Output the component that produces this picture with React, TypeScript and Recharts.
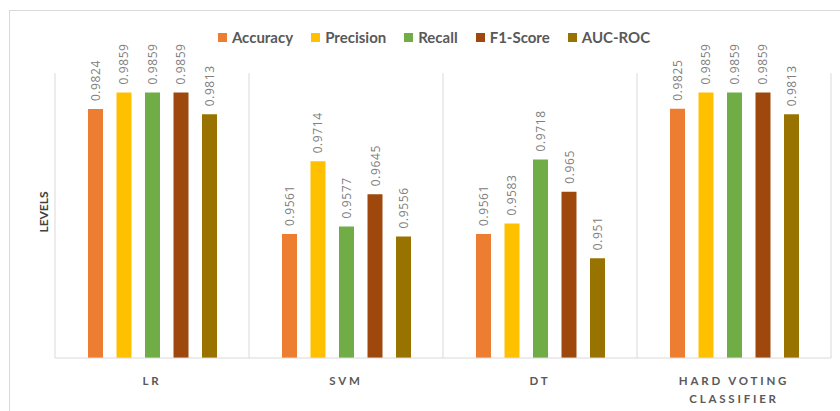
import { Bar, BarChart, CartesianGrid, LabelList, XAxis, YAxis } from "recharts";

const models = ["LR", "SVM", "DT", "HARD VOTING CLASSIFIER"];
const accuracy = [0.9824, 0.9561, 0.9561, 0.9825];
const precision = [0.9859, 0.9714, 0.9583, 0.9859];
const recall = [0.9859, 0.9577, 0.9718, 0.9859];
const f1Score = [0.9859, 0.9645, 0.965, 0.9859];
const aucRoc = [0.9813, 0.9556, 0.951, 0.9813];

const series = [
  { key: "accuracy", name: "Accuracy", color: "#ED7D31" },
  { key: "precision", name: "Precision", color: "#FFC000" },
  { key: "recall", name: "Recall", color: "#70AD47" },
  { key: "f1", name: "F1-Score", color: "#9E480E" },
  { key: "auc", name: "AUC-ROC", color: "#997300" },
];

const data = models.map((model, i) => ({
  model,
  accuracy: accuracy[i],
  precision: precision[i],
  recall: recall[i],
  f1: f1Score[i],
  auc: aucRoc[i],
}));

const FONT = "Lato, 'Open Sans', sans-serif";

// rotated value printed just above each bar
function ValueLabel(props: any) {
  const { x, y, width, value } = props;
  const cx = x + width / 2;
  const cy = y - 8;
  return (
    <text
      x={cx}
      y={cy}
      transform={`rotate(-90 ${cx} ${cy})`}
      textAnchor="start"
      dominantBaseline="central"
      fontSize={12}
      letterSpacing={0.6}
      fill="#808080"
      fontFamily="'Open Sans', sans-serif"
    >
      {String(value)}
    </text>
  );
}

function ModelTick(props: any) {
  const { x, y, payload } = props;
  const lines: string[] =
    payload.value === "HARD VOTING CLASSIFIER" ? ["HARD VOTING", "CLASSIFIER"] : [payload.value];
  return (
    <text
      x={x}
      y={y}
      textAnchor="middle"
      fontSize={11.5}
      fontWeight={700}
      fill="#595959"
      fontFamily={FONT}
      letterSpacing={2.8}
    >
      {lines.map((line, i) => (
        <tspan key={line} x={x} dy={i === 0 ? 19 : 18}>
          {line}
        </tspan>
      ))}
    </text>
  );
}

function LegendRow() {
  return (
    <div
      style={{
        position: "absolute",
        left: 0,
        top: 28,
        width: 868,
        display: "flex",
        justifyContent: "center",
        gap: 18,
        fontFamily: FONT,
        fontSize: 15,
        fontWeight: 700,
        color: "#595959",
      }}
    >
      {series.map((s) => (
        <div key={s.key} style={{ display: "flex", alignItems: "center", gap: 5 }}>
          <span style={{ width: 9, height: 9, background: s.color, display: "inline-block" }} />
          <span>{s.name}</span>
        </div>
      ))}
    </div>
  );
}

export default function App() {
  return (
    <div
      style={{
        position: "absolute",
        left: 0,
        top: 0,
        width: 840,
        height: 411,
        background: "#fff",
        overflow: "hidden",
      }}
    >
      <div
        style={{
          position: "absolute",
          left: 9,
          top: 10,
          width: 860,
          height: 460,
          border: "1px solid #d9d9d9",
        }}
      />
      <div
        style={{
          position: "absolute",
          left: 43,
          top: 212,
          transform: "translate(-50%, -50%) rotate(-90deg)",
          fontFamily: FONT,
          fontSize: 12,
          fontWeight: 700,
          color: "#404040",
        }}
      >
        LEVELS
      </div>
      <LegendRow />
      <div style={{ position: "absolute", left: 0, top: 0 }}>
        <BarChart
          width={840}
          height={411}
          data={data}
          margin={{ top: 73, right: 9, bottom: 0, left: 55 }}
          barCategoryGap="16.7%"
          barGap={13.5}
          barSize={15}
        >
          <CartesianGrid
            horizontal={false}
            stroke="#d9d9d9"
            verticalCoordinatesGenerator={({ offset }: any) =>
              models
                .map((_, i) => offset.left + (i * offset.width) / models.length)
                .concat(offset.left + offset.width)
            }
          />
          <XAxis
            dataKey="model"
            axisLine={{ stroke: "#d9d9d9" }}
            tickLine={false}
            tick={<ModelTick />}
            interval={0}
            height={53}
          />
          <YAxis hide domain={[0.93, 0.99]} allowDataOverflow />
          {series.map((s) => (
            <Bar key={s.key} dataKey={s.key} name={s.name} fill={s.color} isAnimationActive={false}>
              <LabelList dataKey={s.key} content={<ValueLabel />} />
            </Bar>
          ))}
        </BarChart>
      </div>
    </div>
  );
}
